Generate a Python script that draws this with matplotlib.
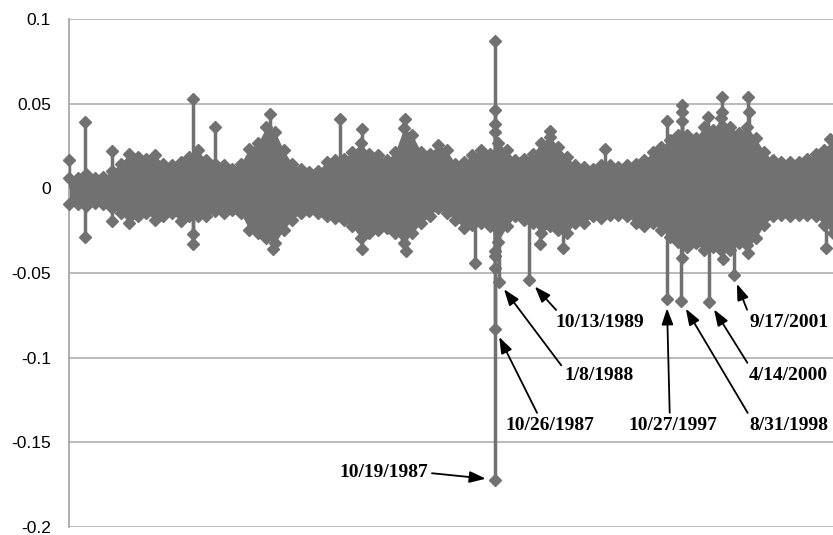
import numpy as np
import matplotlib
matplotlib.use("Agg")
import matplotlib.pyplot as plt

# half-year sampling of the dense band (marker centres of the outer points)
band_years = np.arange(1963.0, 2008.0, 0.5)
band_hi = [0.006, 0.006, 0.0085, 0.006, 0.0065, 0.0105, 0.0145, 0.0205, 0.0185, 0.0175,
           0.0195, 0.0145, 0.0135, 0.0155, 0.0185, 0.0225, 0.0165, 0.0145, 0.0135, 0.0115,
           0.0145, 0.0235, 0.0265, 0.0365, 0.0335, 0.0225, 0.0145, 0.0115, 0.0095, 0.0105,
           0.0155, 0.0165, 0.0175, 0.0215, 0.0265, 0.0205, 0.0195, 0.0165, 0.0215, 0.0355,
           0.0315, 0.0215, 0.0205, 0.0255, 0.0225, 0.0145, 0.0155, 0.0195, 0.0225, 0.0205,
           0.0265, 0.0225, 0.0165, 0.0175, 0.0205, 0.0265, 0.0305, 0.0245, 0.0185, 0.0135,
           0.0125, 0.0115, 0.0135, 0.0135, 0.0125, 0.0135, 0.0145, 0.0165, 0.0215, 0.0245,
           0.0285, 0.0315, 0.0315, 0.0295, 0.0365, 0.0345, 0.0415, 0.0365, 0.0325, 0.0365,
           0.0295, 0.0215, 0.0165, 0.0155, 0.0155, 0.0155, 0.0175, 0.0205, 0.0225, 0.0245]
band_lo = [-0.0095, -0.0095, -0.0105, -0.0085, -0.0095, -0.0115, -0.0145, -0.0205, -0.0165, -0.0145,
           -0.0185, -0.0165, -0.0145, -0.0195, -0.0165, -0.0165, -0.0165, -0.0135, -0.0145, -0.0125,
           -0.0145, -0.0245, -0.0265, -0.0295, -0.0325, -0.0245, -0.0185, -0.0145, -0.0135, -0.0145,
           -0.0165, -0.0175, -0.0185, -0.0225, -0.0295, -0.0265, -0.0245, -0.0235, -0.0265, -0.0325,
           -0.0265, -0.0205, -0.0165, -0.0115, -0.0145, -0.0185, -0.0235, -0.0215, -0.0205, -0.0225,
           -0.0315, -0.0225, -0.0165, -0.0185, -0.0205, -0.0265, -0.0225, -0.0245, -0.0265, -0.0205,
           -0.0205, -0.0165, -0.0175, -0.0155, -0.0155, -0.0165, -0.0205, -0.0225, -0.0205, -0.0245,
           -0.0285, -0.0315, -0.0345, -0.0325, -0.0365, -0.0345, -0.0365, -0.0365, -0.0325, -0.0335,
           -0.0295, -0.0215, -0.0165, -0.0155, -0.0165, -0.0155, -0.0155, -0.0165, -0.0215, -0.0265]

# isolated large moves sticking out of the band
spike_years = [1963.0, 1963.96, 1963.96, 1965.53, 1965.53, 1970.24, 1970.24, 1970.24,
               1971.52, 1974.72, 1974.9, 1978.79, 1980.07, 1980.07, 1982.57, 1982.6,
               1986.64, 1987.8, 1987.8, 1987.8, 1987.8, 1987.8, 1987.8, 1987.8,
               1990.42, 1991.0, 1991.75, 1994.2, 1997.82, 1998.72, 1998.72, 1998.72,
               1998.7, 2000.2, 2001.06, 2001.06, 2001.1, 2002.57, 2002.6, 2002.55,
               2002.6, 2007.1, 2007.3]
spike_vals = [0.0165, 0.039, -0.029, 0.022, -0.019, 0.053, -0.033, -0.027,
              0.036, 0.044, -0.036, 0.041, 0.035, -0.036, 0.041, -0.037,
              -0.044, 0.087, 0.046, 0.038, 0.033, -0.037, -0.040, -0.047,
              -0.033, 0.034, -0.035, 0.0235, 0.040, 0.049, 0.045, 0.040,
              -0.041, 0.042, 0.054, 0.045, -0.042, 0.054, 0.045, -0.038,
              -0.030, -0.035, 0.029]

# labelled days
event_labels = ["10/19/1987", "10/26/1987", "1/8/1988", "10/13/1989",
                "10/27/1997", "8/31/1998", "4/14/2000", "9/17/2001"]
event_years = [1987.80, 1987.82, 1988.02, 1989.78, 1997.82, 1998.66, 2000.29, 2001.71]
event_vals = [-0.172, -0.083, -0.0553, -0.054, -0.0655, -0.0665, -0.067, -0.0514]

# label placement (layout only)
label_pos = [(1983.9, -0.168), (1991.0, -0.140), (1993.9, -0.1104), (1993.9, -0.0791),
             (1998.15, -0.140), (2004.95, -0.140), (2004.9, -0.1104), (2004.95, -0.0791)]
label_ha = ["right", "center", "center", "center", "center", "center", "center", "center"]
arrow_rel = [(1.0, 0.5), (0.38, 1.0), (0.0, 0.8), (0.05, 1.0),
             (0.47, 1.0), (0.03, 0.8), (0.04, 0.8), (0.0, 0.85)]

ytick_vals = [0.1, 0.05, 0, -0.05, -0.1, -0.15, -0.2]
ytick_labels = ["0.1", "0.05", "0", "-0.05", "-0.1", "-0.15", "-0.2"]

grey = "#717171"

fig = plt.figure(figsize=(8.33, 5.35), dpi=100)
ax = fig.add_axes([69/833, 8/535, (833-69)/833, (527-19)/535])

ax.fill_between(band_years, band_lo, band_hi, color=grey, lw=0, zorder=2)
ax.plot(band_years, band_hi, ls="none", marker="D", ms=6.5, color=grey, zorder=3, clip_on=False)
ax.plot(band_years, band_lo, ls="none", marker="D", ms=6.5, color=grey, zorder=3, clip_on=False)

ax.vlines(spike_years, 0, spike_vals, color=grey, lw=2.5, zorder=3)
ax.plot(spike_years, spike_vals, ls="none", marker="D", ms=6.5, color=grey, zorder=3, clip_on=False)

ax.vlines(event_years, 0, event_vals, color=grey, lw=2.5, zorder=3)
ax.plot(event_years, event_vals, ls="none", marker="D", ms=6.5, color=grey, zorder=3)

for lab, x, y, pos, ha, rel in zip(event_labels, event_years, event_vals,
                                   label_pos, label_ha, arrow_rel):
    ax.annotate(lab, xy=(x, y), xytext=pos, ha=ha, va="center",
                fontsize=14, fontweight="bold", family="Liberation Serif",
                arrowprops=dict(arrowstyle="-|>,head_length=0.7,head_width=0.25",
                                color="black", lw=1.3, shrinkA=1, shrinkB=6.5,
                                relpos=rel),
                zorder=5)

ax.set_xlim(1963.0, 2007.5)
ax.set_ylim(-0.2, 0.1)
ax.set_yticks(ytick_vals)
ax.set_yticklabels(ytick_labels, family="Liberation Sans", fontsize=12.5)
ax.set_xticks([])
ax.tick_params(axis="y", length=0, pad=13)
ax.yaxis.grid(True, color="#b4b4b4", lw=1.3, zorder=0)
ax.set_axisbelow(True)
for s in ["top", "right", "bottom"]:
    ax.spines[s].set_visible(False)
ax.spines["left"].set_color("#a8a8a8")
ax.spines["left"].set_linewidth(1.3)

fig.savefig("out.png", dpi=100)
